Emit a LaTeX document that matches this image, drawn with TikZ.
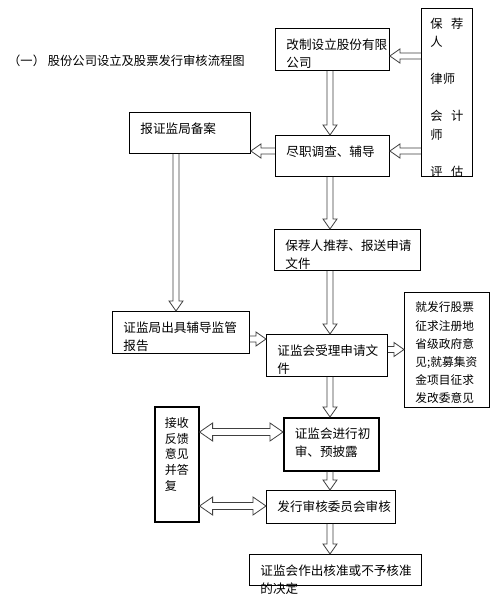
\documentclass[tikz,border=0pt]{standalone}
\usepackage{fontspec}
\newfontfamily\cjk{Noto Sans CJK SC}
\usetikzlibrary{calc}
\begin{document}
\begin{tikzpicture}[x=1pt, y=-1pt,
  box/.style={draw, anchor=north west, line width=0.9pt, inner xsep=11pt, inner ysep=0pt, text height=21pt, align=left, font=\cjk\fontsize{12.6pt}{18pt}\selectfont},
  hollow/.style={draw=black!75, line width=0.8pt, to path={
    let \p1=(\tikztostart), \p2=(\tikztotarget), \n1={atan2(\y2-\y1,\x2-\x1)} in
    ($(\p1)+(\n1+90:3pt)$) -- ($(\p2)+(\n1:-10pt)+(\n1+90:3pt)$)
    -- ($(\p2)+(\n1:-10pt)+(\n1+90:7pt)$) -- (\p2)
    -- ($(\p2)+(\n1:-10pt)+(\n1-90:7pt)$) -- ($(\p2)+(\n1:-10pt)+(\n1-90:3pt)$)
    -- ($(\p1)+(\n1-90:3pt)$) \tikztonodes}},
  twin/.style={draw=black!75, line width=0.8pt, to path={
    let \p1=(\tikztostart), \p2=(\tikztotarget), \n1={atan2(\y2-\y1,\x2-\x1)} in
    (\p1) -- ($(\p1)+(\n1:13pt)+(\n1+90:9pt)$) -- ($(\p1)+(\n1:13pt)+(\n1+90:3.5pt)$)
    -- ($(\p2)+(\n1:-13pt)+(\n1+90:3.5pt)$) -- ($(\p2)+(\n1:-13pt)+(\n1+90:9pt)$)
    -- (\p2) -- ($(\p2)+(\n1:-13pt)+(\n1-90:9pt)$) -- ($(\p2)+(\n1:-13pt)+(\n1-90:3.5pt)$)
    -- ($(\p1)+(\n1:13pt)+(\n1-90:3.5pt)$) -- ($(\p1)+(\n1:13pt)+(\n1-90:9pt)$) -- cycle \tikztonodes}}]
\path[fill=white] (0,0) rectangle (500,602);
\useasboundingbox (0,0) rectangle (500,602);

% 标题
\node (title) [anchor=base west, inner sep=0pt, font=\cjk\fontsize{12.3pt}{15pt}\selectfont] at (8,65.7) {（一） 股份公司设立及股票发行审核流程图};

% 上部 - 改制、中介机构、尽职调查
\node (gaizhi) [box, text width=92pt, text depth=21pt] at (275,28) {改制设立股份有限\\公司};
\node (zhongjie) [box, inner xsep=9pt, text height=20pt, text width=33pt, text depth=148pt, font=\cjk\fontsize{12.3pt}{18.5pt}\selectfont] at (421,8) {保\hfill 荐\\人\\[18.5pt]律师\\[18.5pt]会\hfill 计\\师\\[18.5pt]评\hfill 估};
\node (beian) [box, text width=99pt, text depth=20pt] at (129,112) {报证监局备案};
\node (jinzhi) [box, text width=92pt, text depth=20pt] at (275,135) {尽职调查、辅导};

% 中部 - 推荐与受理
\node (tuijian) [box, text width=124pt, text depth=20pt] at (274,229) {保荐人推荐、报送申请\\文件};
\node (fudao) [box, text width=115pt, text depth=21pt] at (112,311) {证监局出具辅导监管\\报告};
\node (shouli) [box, text width=99pt, text depth=21pt] at (266,334) {证监会受理申请文\\件};
\node (zhengqiu) [box, text height=19.5pt, text width=63pt, text depth=95.5pt, font=\cjk\fontsize{11.7pt}{18.2pt}\selectfont] at (404,292) {就发行股票\\征求注册地\\省级政府意\\见;就募集资\\金项目征求\\发改委意见};

% 下部 - 审核与决定
\node (fankui) [box, line width=1.6pt, inner xsep=10pt, text height=20.6pt, text width=24pt, text depth=94.4pt, font=\cjk\fontsize{12pt}{15.7pt}\selectfont] at (154,406) {接收\\反馈\\意见\\并答\\复};
\node (chushen) [box, line width=1.6pt, text width=73pt, text depth=32pt] at (283,417) {证监会进行初\\审、预披露};
\node (fashen) [box, text width=107pt, text depth=12pt] at (266,490) {发行审核委员会审核};
\node (jueding) [box, text width=150pt, text depth=10pt] at (249,554) {证监会作出核准或不予核准\\的决定};

% 连线
\coordinate (spine) at (330,0);
\draw[hollow] (zhongjie.west |- 0,56) to (gaizhi.east |- 0,56);
\draw[hollow] (zhongjie.west |- 0,151) to (jinzhi.east |- 0,151);

\draw[hollow] (gaizhi.south -| spine) to (jinzhi.north -| spine);
\draw[hollow] (jinzhi.south -| spine) to (tuijian.north -| spine);
\draw[hollow] (tuijian.south -| spine) to (shouli.north -| spine);
\draw[hollow] (shouli.south -| spine) to (chushen.north -| spine);
\draw[hollow] (chushen.south -| spine) to (fashen.north -| spine);
\draw[hollow] (fashen.south -| spine) to (jueding.north -| spine);

\draw[hollow] (jinzhi.west |- 0,151) to (beian.east |- 0,151);
\draw[hollow] (beian.south -| 176,0) to (fudao.north -| 176,0);
\draw[hollow] (fudao.east |- 0,339) to (shouli.west |- 0,339);
\draw[hollow] (shouli.east |- 0,349.5) to (zhengqiu.west |- 0,349.5);

\draw[twin] (fankui.east |- 0,432) to (chushen.west |- 0,432);
\draw[twin] (fankui.east |- 0,506) to (fashen.west |- 0,506);

\end{tikzpicture}
\end{document}
